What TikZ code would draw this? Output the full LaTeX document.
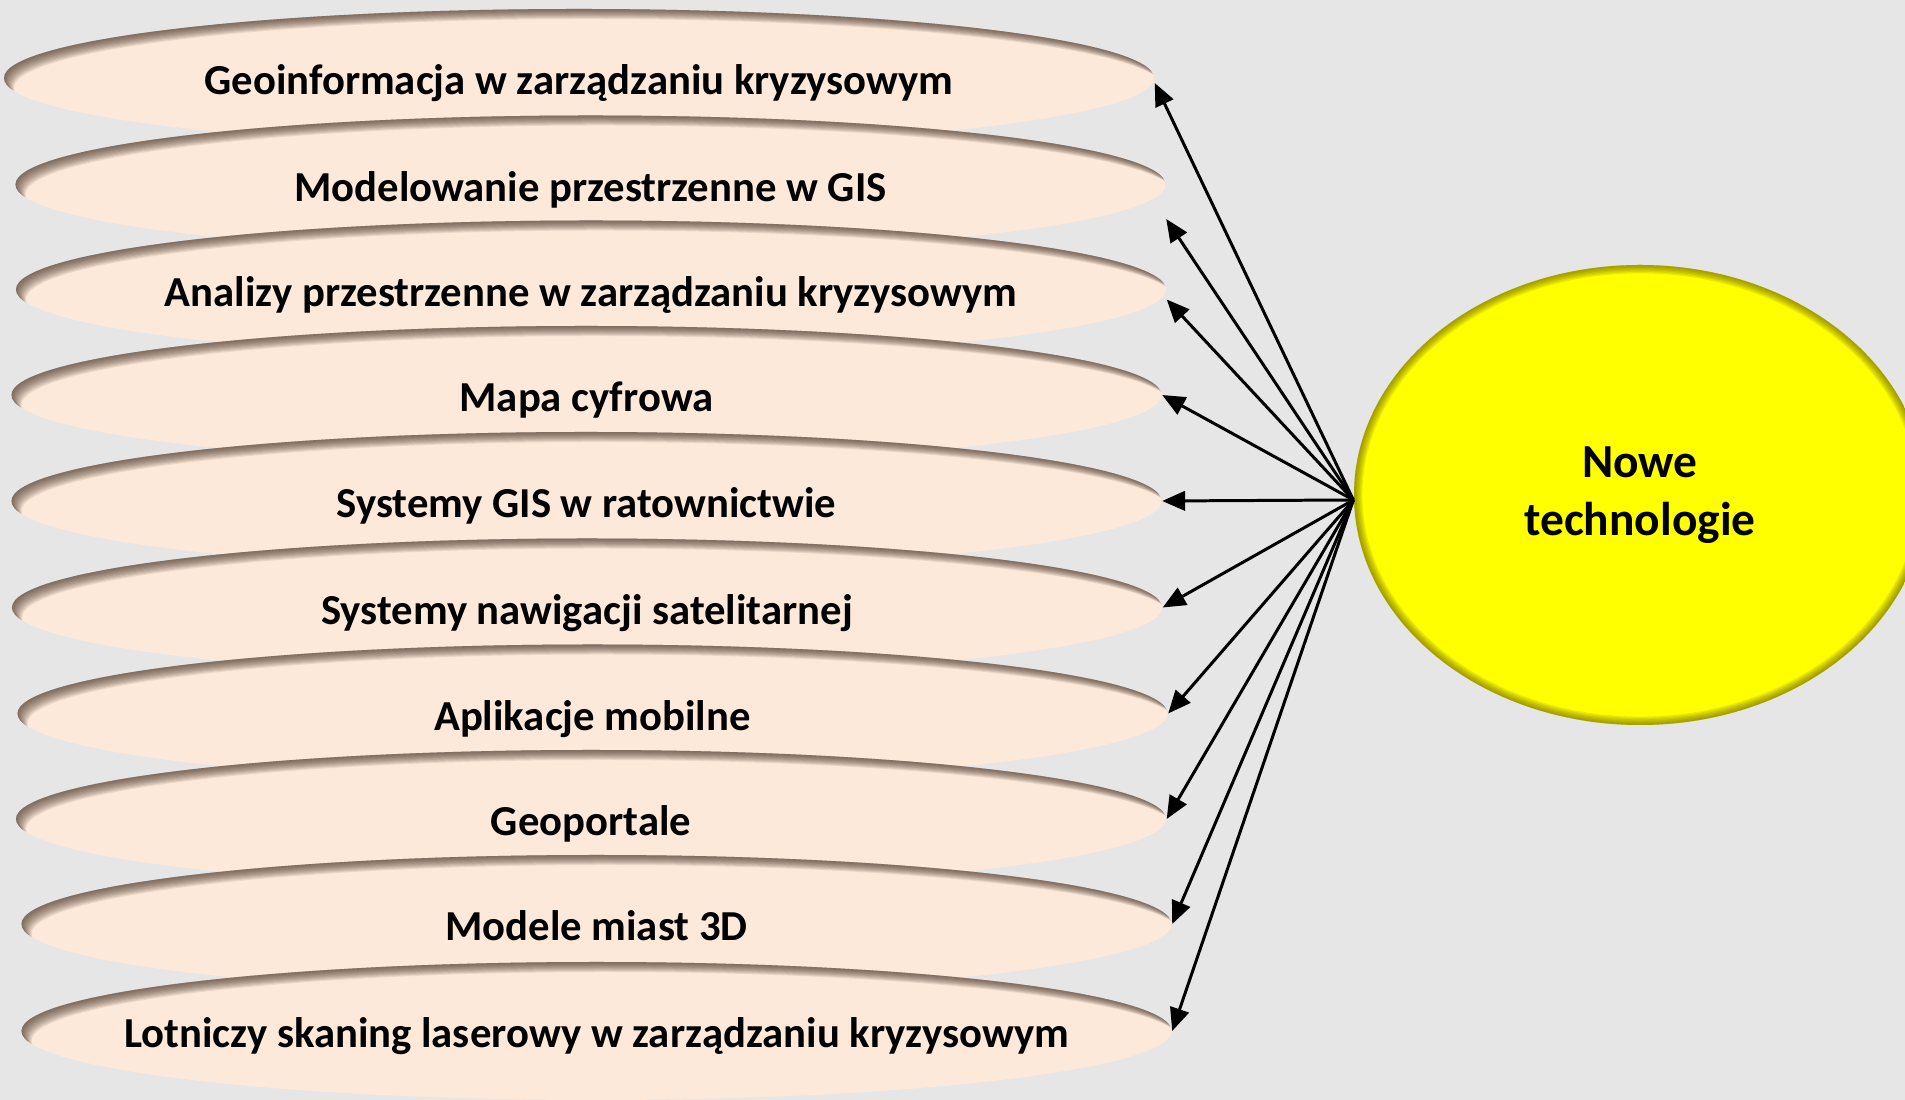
\documentclass[tikz,border=0pt]{standalone}
\usepackage{fontspec}
\setmainfont{Carlito}
\usepackage{xcolor}
\usepackage{tikz}
\usetikzlibrary{shapes.geometric,arrows.meta,positioning}
\definecolor{paper}{RGB}{230,230,230}
\definecolor{peach}{RGB}{253,233,217}
\definecolor{peachshade}{RGB}{70,52,40}
\definecolor{sun}{RGB}{255,255,0}
\definecolor{sunshade}{RGB}{100,90,0}
\tikzset{
  topic/.style={ellipse,fill=peach,minimum width=11.5cm,minimum height=1.38cm,
                inner xsep=-2cm,text height=9.6pt,text depth=0pt,
                font=\fontsize{12.15}{14.5}\selectfont\bfseries,
                path picture={\foreach \d in {1,...,10}
                  \fill[peachshade,opacity=0.1,even odd rule]
                    (path picture bounding box.center) ellipse [x radius=6.1cm,y radius=0.95cm]
                    ([shift={(\d*0.01cm,-\d*0.01cm)}]path picture bounding box.center)
                      ellipse [x radius=5.75cm,y radius=0.69cm];}},
  core/.style={ellipse,fill=sun,minimum width=5.72cm,minimum height=4.6cm,align=center,
               font=\fontsize{13.5}{16.5}\selectfont\bfseries,
               path picture={\foreach \w in {1,...,6}
                  \draw[sunshade,opacity=0.13,line width=\w*0.8pt]
                    (path picture bounding box.center) ellipse [x radius=2.86cm,y radius=2.3cm];}},
  link/.style={-{Triangle[length=6.5pt,width=5.5pt]},line width=0.85pt,draw=black},
}

\begin{document}
\begin{tikzpicture}
  \useasboundingbox (0,0) rectangle (19.05,11);
  \fill[paper] (0,0) rectangle (19.05,11);
  \clip (0,0) rectangle (19.05,11);

  \node[topic] (e1) at (5.79,10.22) {Geoinformacja w zarządzaniu kryzysowym};
  \node[topic] (e2) at (5.905,9.155) {Modelowanie przestrzenne w GIS};
  \node[topic] (e3) at (5.91,8.105) {Analizy przestrzenne w zarządzaniu kryzysowym};
  \node[topic] (e4) at (5.865,7.05) {Mapa cyfrowa};
  \node[topic] (e5) at (5.865,5.99) {Systemy GIS w ratownictwie};
  \node[topic] (e6) at (5.87,4.925) {Systemy nawigacji satelitarnej};
  \node[topic] (e7) at (5.925,3.865) {Aplikacje mobilne};
  \node[topic] (e8) at (5.91,2.81) {Geoportale};
  \node[topic] (e9) at (5.965,1.76) {Modele miast 3D};
  \node[topic] (e10) at (5.965,0.69) {Lotniczy skaning laserowy w zarządzaniu kryzysowym};

  \node[core] (nt) at (16.4,6.05) {Nowe\\technologie};

  \draw[link] (nt.181) -- ([yshift=-0.05cm]e1.east);
  \draw[link] (nt.181) -- ([yshift=-0.345cm]e2.east);
  \draw[link] (nt.181) -- ([yshift=-0.1cm]e3.east);
  \draw[link] (nt.181) -- (e4.east);
  \draw[link] (nt.181) -- (e5.east);
  \draw[link] (nt.181) -- (e6.east);
  \draw[link] (nt.181) -- (e7.east);
  \draw[link] (nt.181) -- (e8.east);
  \draw[link] (nt.181) -- (e9.east);
  \draw[link] (nt.181) -- (e10.east);
\end{tikzpicture}
\end{document}
